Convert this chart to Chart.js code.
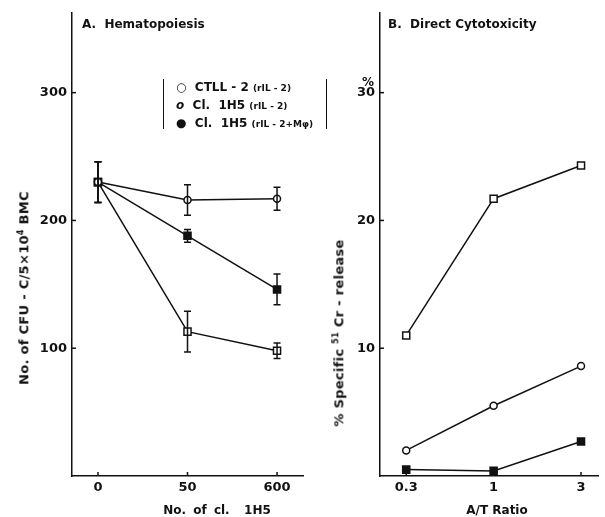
<!DOCTYPE html>
<html>
<head>
<meta charset="utf-8">
<script src="https://cdn.jsdelivr.net/npm/chart.js@4.4.0/dist/chart.umd.min.js"></script>
<style>
  body { margin: 0; background: #fff; }
  #wrap { position: relative; width: 605px; height: 517px; overflow: hidden; font-family: "DejaVu Sans", sans-serif; font-weight: bold; color: #111; }
  canvas { position: absolute; top: 0; }
  .t { position: absolute; white-space: nowrap; font-size: 12px; line-height: 14px; }
  .rot { transform: translate(-50%, -50%) rotate(-90deg); font-size: 13px; letter-spacing: 0.3px; }
  .legend { position: absolute; left: 163px; top: 79px; width: 162px; height: 50px; border-left: 1px solid #111; border-right: 1px solid #111; }
  .legend div { position: absolute; left: 12px; white-space: nowrap; font-size: 12px; }
  .legend small { font-size: 9px; }
  sup { font-size: 8px; }
</style>
</head>
<body>
<div id="wrap">
  <canvas id="chartA" width="310" height="517" style="left:0"></canvas>
  <canvas id="chartB" width="305" height="517" style="left:300px"></canvas>

  <div class="t" style="left:82px; top:17px">A.&nbsp; Hematopoiesis</div>
  <div class="t" style="left:388px; top:17px">B.&nbsp; Direct Cytotoxicity</div>
  <div class="t" style="left:362px; top:75px">%</div>

  <div class="legend">
    <div style="top:1px">○&nbsp; CTLL - 2 <small>(rIL - 2)</small></div>
    <div style="top:19px"><i>o</i>&nbsp; Cl.&nbsp; 1H5 <small>(rIL - 2)</small></div>
    <div style="top:37px">●&nbsp; Cl.&nbsp; 1H5 <small>(rIL - 2+Mφ)</small></div>
  </div>

  <div class="t rot" style="left:23px; top:288px">No. of CFU - C/5×10<sup>4</sup> BMC</div>
  <div class="t rot" style="left:338px; top:333px">% Specific <sup>51</sup> Cr - release</div>
  <div class="t" style="left:217px; top:510px; transform: translate(-50%, -50%); word-spacing: 3px">No. of cl.&nbsp; 1H5</div>
  <div class="t" style="left:497px; top:510px; transform: translate(-50%, -50%)">A/T Ratio</div>
</div>

<script>
// Panel A data
const catA = ["0", "50", "600"];
const ctllA = [230, 216, 217];
const errCtllA = [16, 12, 9];
const h5A = [230, 113, 98];
const errH5A = [16, 16, 6];
const h5MA = [230, 188, 146];
const errH5MA = [16, 5, 12];
const yTicksA = [100, 200, 300];

// Panel B data
const catB = ["0.3", "1", "3"];
const squareB = [11, 21.7, 24.3];
const circleB = [2, 5.5, 8.6];
const filledB = [0.5, 0.4, 2.7];
const yTicksB = [10, 20, 30];

const ink = "#111";
const tickFont = { family: "DejaVu Sans", size: 13, weight: "bold" };

function pts(arr) {
  return arr.map((v, i) => ({ x: i, y: v }));
}

function series(values, style, filled, radius) {
  return {
    data: pts(values),
    borderColor: ink,
    borderWidth: 1.5,
    pointStyle: style,
    pointRadius: radius,
    pointBorderWidth: 1.5,
    pointBorderColor: ink,
    pointBackgroundColor: filled ? ink : "#fff",
    tension: 0,
    fill: false,
  };
}

// error bars + inward tick marks, drawn through the chart scales
const marksPlugin = {
  id: "marks",
  afterDatasetsDraw(chart, args, opts) {
    const { ctx, chartArea, scales } = chart;
    const x = scales.x, y = scales.y;
    ctx.save();
    ctx.strokeStyle = ink;
    ctx.lineWidth = 1.5;
    (opts.bars || []).forEach((b) => {
      b.values.forEach((v, i) => {
        const e = b.err[i];
        if (!e) return;
        const px = x.getPixelForValue(i);
        const t = y.getPixelForValue(v + e);
        const btm = y.getPixelForValue(v - e);
        ctx.beginPath();
        ctx.moveTo(px, t); ctx.lineTo(px, btm);
        ctx.moveTo(px - 3.5, t); ctx.lineTo(px + 3.5, t);
        ctx.moveTo(px - 3.5, btm); ctx.lineTo(px + 3.5, btm);
        ctx.stroke();
      });
    });
    opts.yTicks.forEach((v) => {
      const py = y.getPixelForValue(v);
      ctx.beginPath();
      ctx.moveTo(chartArea.left - 1, py);
      ctx.lineTo(chartArea.left + 4, py);
      ctx.stroke();
    });
    [0, 1, 2].forEach((i) => {
      const px = x.getPixelForValue(i);
      ctx.beginPath();
      ctx.moveTo(px, chartArea.bottom);
      ctx.lineTo(px, chartArea.bottom - 4);
      ctx.stroke();
    });
    ctx.restore();
  },
};

function makeChart(id, cats, datasets, yTicks, yMax, xMin, xMax, yWidth, padRight, bars) {
  return new Chart(document.getElementById(id), {
    type: "line",
    data: { datasets: datasets },
    plugins: [marksPlugin],
    options: {
      responsive: false,
      animation: false,
      layout: { padding: { top: 12, right: padRight, left: 0, bottom: 0 } },
      plugins: {
        legend: { display: false },
        tooltip: { enabled: false },
        marks: { bars: bars, yTicks: yTicks },
      },
      scales: {
        x: {
          type: "linear",
          min: xMin,
          max: xMax,
          afterBuildTicks: (s) => { s.ticks = cats.map((c, i) => ({ value: i })); },
          afterFit: (s) => { s.height = 41; },
          ticks: {
            color: ink,
            font: tickFont,
            padding: 4,
            maxRotation: 0,
            callback: (v) => cats[v],
          },
          grid: { drawOnChartArea: false, drawTicks: false },
          border: { display: true, color: ink, width: 1.5 },
        },
        y: {
          min: 0,
          max: yMax,
          afterBuildTicks: (s) => { s.ticks = yTicks.map((v) => ({ value: v })); },
          afterFit: (s) => { s.width = yWidth; },
          ticks: { color: ink, font: tickFont, padding: 5 },
          grid: { drawOnChartArea: false, drawTicks: false },
          border: { display: true, color: ink, width: 1.5 },
        },
      },
    },
  });
}

makeChart(
  "chartA",
  catA,
  [
    series(ctllA, "circle", false, 3.5),
    series(h5A, "rect", false, 5),
    series(h5MA, "rect", true, 5),
  ],
  yTicksA, 362.5, -0.29, 2.29, 72, 7,
  [
    { values: ctllA, err: errCtllA },
    { values: h5A, err: errH5A },
    { values: h5MA, err: errH5MA },
  ]
);

makeChart(
  "chartB",
  catB,
  [
    series(squareB, "rect", false, 5),
    series(circleB, "circle", false, 3.5),
    series(filledB, "rect", true, 5),
  ],
  yTicksB, 36.25, -0.3, 2.2, 80, 0,
  []
);
</script>
</body>
</html>
